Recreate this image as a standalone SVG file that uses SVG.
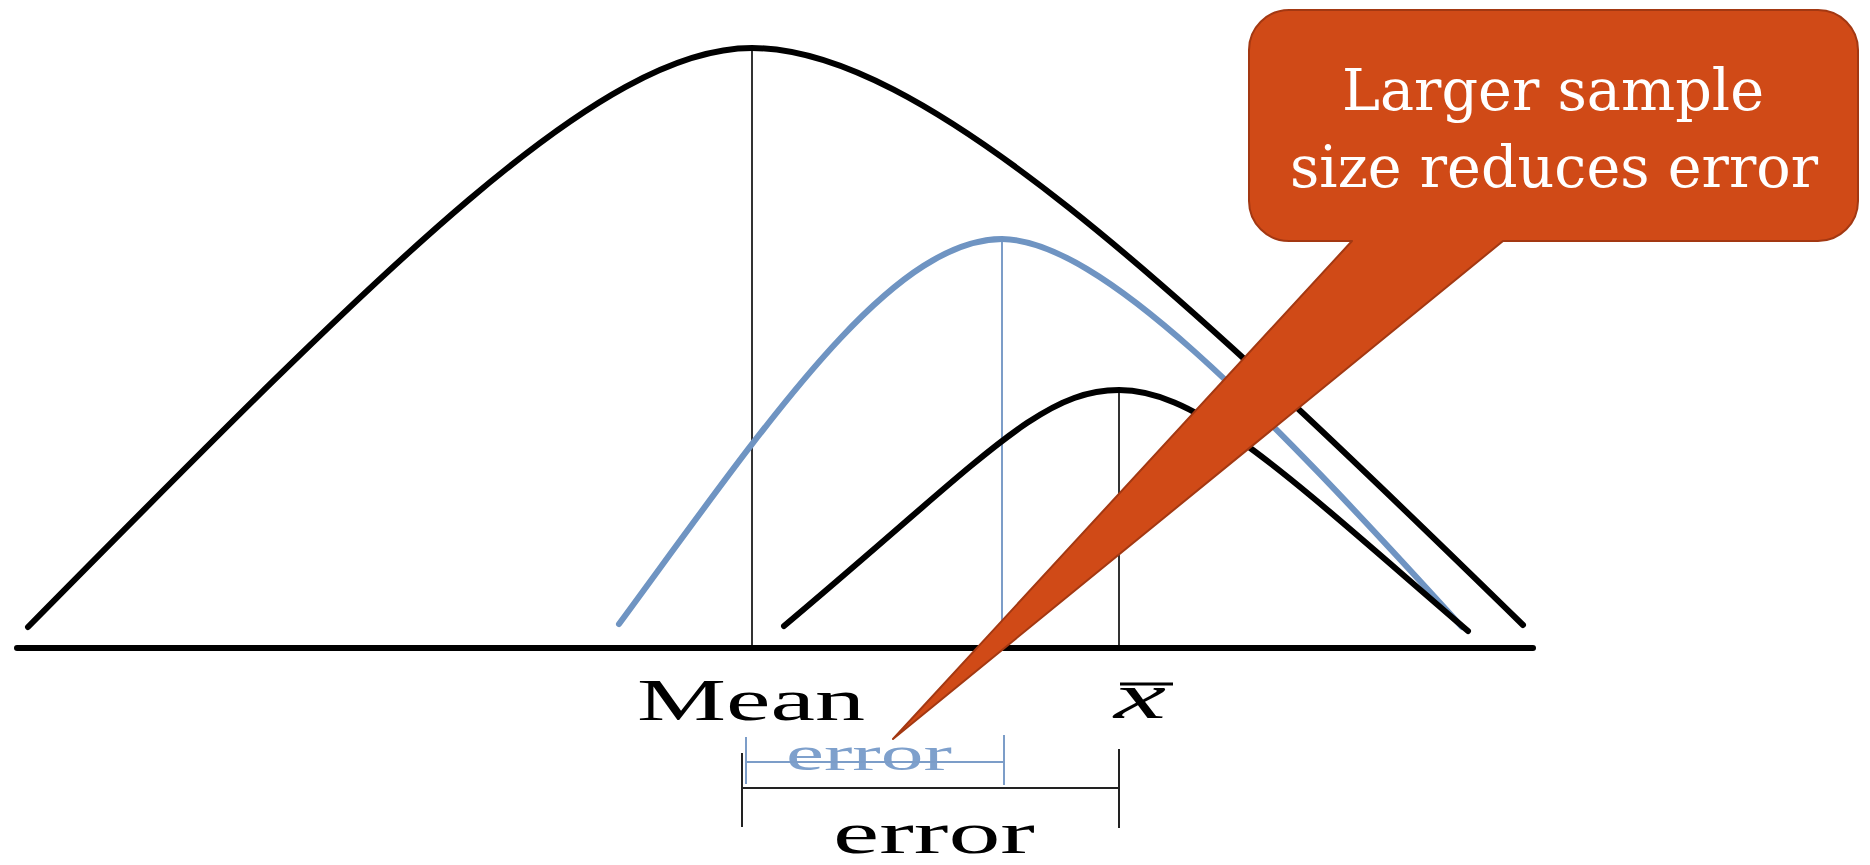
<svg xmlns="http://www.w3.org/2000/svg" width="1870" height="865" viewBox="0 0 1870 865">
<style>
.curve{fill:none;stroke:#000;stroke-width:6;stroke-linecap:round}
.blue{fill:none;stroke:#6F94C2;stroke-width:6;stroke-linecap:round}
.vline{stroke:#333;stroke-width:2;fill:none}
.bvline{stroke:#7C9DC8;stroke-width:2;fill:none}
.lbl{font-family:"Liberation Serif","Times New Roman",serif;fill:#000}
.call{font-family:"DejaVu Serif",serif;font-size:58px;fill:#fff;text-anchor:middle}
</style>
<rect width="1870" height="865" fill="#fff"/>
<g id="axis">
<line x1="17" y1="648" x2="1533" y2="648" stroke="#000" stroke-width="6" stroke-linecap="round"/>
</g>
<g id="connectors">
<line class="vline" x1="752" y1="50" x2="752" y2="645"/>
<line class="bvline" x1="1002" y1="240" x2="1002" y2="645"/>
<line class="vline" x1="1119" y1="390" x2="1119" y2="645"/>
</g>
<g id="population-curve">
<path class="curve" d="M28,627 C390,260 600,48 752,48 C920,48 1170,280 1523,625"/>
</g>
<g id="blue-curve">
<path class="blue" d="M619,624 C769,420 890,240 1002,239 C1100,240 1262,407 1462,627"/>
</g>
<g id="sample-curve">
<path class="curve" d="M784,626 C984,458 1040,390 1119,390 C1200,390 1290,478 1468,631"/>
</g>
<g id="label-mean">
<text class="lbl" x="637" y="720" font-size="60" textLength="228" lengthAdjust="spacingAndGlyphs">Mean</text>
</g>
<g id="label-xbar">
<line x1="1120" y1="684" x2="1173" y2="684" stroke="#000" stroke-width="3"/>
<text class="lbl" x="1114" y="718" font-size="66" font-style="italic" textLength="52" lengthAdjust="spacingAndGlyphs">x</text>
</g>
<g id="blue-error">
<text class="lbl" x="786" y="770" font-size="49" style="fill:#7EA0CC" textLength="166" lengthAdjust="spacingAndGlyphs">error</text>
<line class="bvline" x1="746" y1="737" x2="746" y2="784"/>
<line class="bvline" x1="1004" y1="735" x2="1004" y2="785"/>
<line class="bvline" x1="746" y1="762" x2="1004" y2="762"/>
</g>
<g id="black-error">
<line x1="742" y1="753" x2="742" y2="827" stroke="#222" stroke-width="2"/>
<line x1="1119" y1="749" x2="1119" y2="828" stroke="#222" stroke-width="2"/>
<line x1="742" y1="788" x2="1119" y2="788" stroke="#222" stroke-width="2"/>
<text class="lbl" x="833" y="853" font-size="60" textLength="202" lengthAdjust="spacingAndGlyphs">error</text>
</g>
<g id="callout">
<path d="M1289,10 H1818 A40,40 0 0 1 1858,50 V201 A40,40 0 0 1 1818,241 H1503 L893,739 L1352,241 H1289 A40,40 0 0 1 1249,201 V50 A40,40 0 0 1 1289,10 Z" fill="#D04A17" stroke="#A33812" stroke-width="2" stroke-linejoin="round"/>
<text class="call" x="1553" y="110" textLength="422" lengthAdjust="spacingAndGlyphs">Larger sample</text>
<text class="call" x="1554" y="187" textLength="528" lengthAdjust="spacingAndGlyphs">size reduces error</text>
</g>
</svg>
